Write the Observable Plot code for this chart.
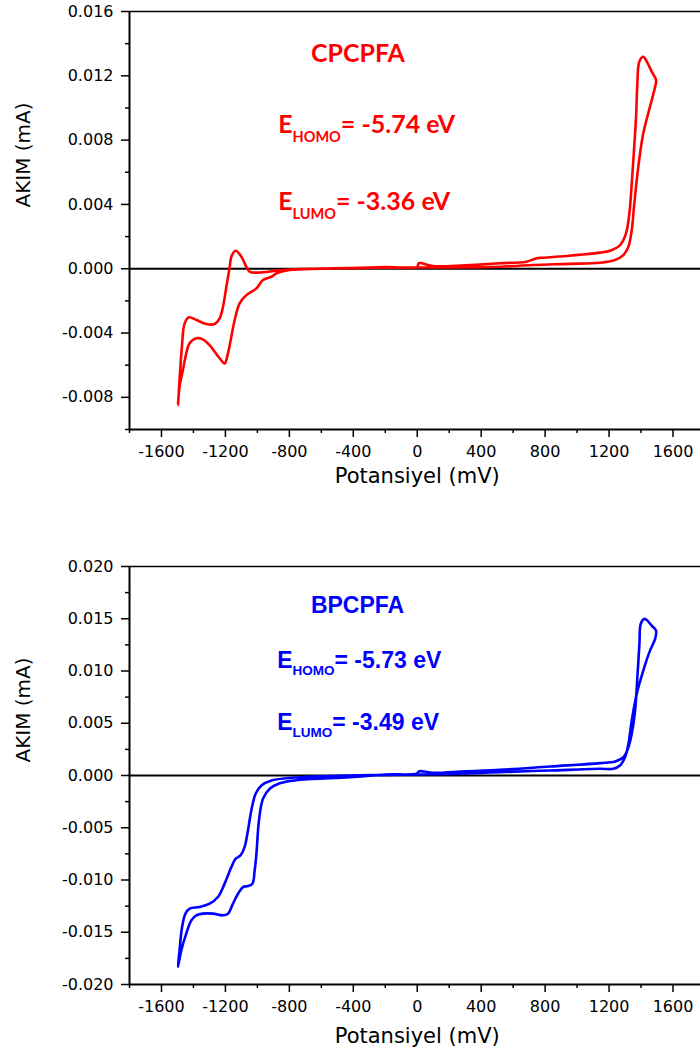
<!DOCTYPE html>
<html>
<head>
<meta charset="utf-8">
<script src="https://cdn.jsdelivr.net/npm/d3@7"></script>
<script src="https://cdn.jsdelivr.net/npm/@observablehq/plot@0.6"></script>
<style>
html, body { margin: 0; padding: 0; background: #fff; overflow: hidden; }
#chart svg { display: block; }
</style>
</head>
<body>
<div id="chart"></div>
<script>
// ---------- DATA ----------
// CPCPFA (red) cyclic voltammogram: potential (mV) and current (mA), closed loop
const redPotential = [
  0, 200, 400, 517, 726, 950, 1143, 1237, 1289, 1321, 1342, 1356, 1383, 1414, 1456, 1488, 1494,
  1467, 1436, 1414, 1389, 1377, 1369, 1356, 1342, 1327, 1306, 1269, 1206, 1143, 935, 780, 747, 684,
  517, 300, 100, 10, 0, -200, -422, -600, -798, -881, -912, -965, -1006, -1069, -1111, -1142, -1163,
  -1184, -1205, -1236, -1267, -1299, -1341, -1382, -1424, -1445, -1466, -1487, -1497,
  -1487, -1472, -1455, -1428, -1382, -1319, -1267, -1236, -1215, -1194, -1173, -1163, -1136, -1100,
  -1069, -1048, -965, -881, -735, -422, -200, 0
];
const redCurrent = [
  0.00008, 0.00008, 0.0001, 0.00012, 0.00023, 0.0003, 0.00037, 0.00054, 0.00085, 0.00137, 0.00241, 0.00386, 0.00635, 0.00842, 0.01008, 0.01132, 0.01174,
  0.01226, 0.01288, 0.01319, 0.01288, 0.01153, 0.00946, 0.00738, 0.00531, 0.00345, 0.0022, 0.00147, 0.00112, 0.001, 0.00079, 0.00068, 0.00065, 0.00044,
  0.00034, 0.00022, 0.00016, 0.00035, 0.00012, 0.0001, 0.00005, 0.0, -0.00008, -0.00029, -0.0005, -0.0007, -0.00122, -0.00164, -0.00215, -0.00319, -0.00423,
  -0.00526, -0.00589, -0.00557, -0.00516, -0.00475, -0.00439, -0.00433, -0.00464, -0.00526, -0.0063, -0.00734, -0.00848,
  -0.00692, -0.00485, -0.0034, -0.00302, -0.00319, -0.00344, -0.00344, -0.00309, -0.00236, -0.00112, 0.00012, 0.00075, 0.00112, 0.00075,
  0.00012, -0.00019, -0.00022, -0.00012, -0.00002, 0.00004, 0.00006, 0.00008
];

// BPCPFA (blue) cyclic voltammogram
const bluePotential = [
  0, 200, 400, 517, 830, 1143, 1227, 1268, 1300, 1321, 1342, 1373, 1414, 1456, 1488, 1494,
  1467, 1436, 1419, 1398, 1390, 1377, 1363, 1342, 1321, 1290, 1238, 1143, 830, 517, 300, 100, 10, 0,
  -200, -422, -735, -860, -923, -965, -990, -1006, -1017, -1031, -1059, -1090, -1121, -1153, -1184,
  -1215, -1278, -1341, -1382, -1413, -1445, -1476, -1497,
  -1487, -1471, -1450, -1424, -1362, -1299, -1247, -1205, -1163, -1136, -1106, -1080, -1059, -1038,
  -1011, -975, -912, -735, -422, -200, 0
];
const blueCurrent = [
  0.0001, 0.00015, 0.00025, 0.00032, 0.00048, 0.00064, 0.00064, 0.00096, 0.00175, 0.00303, 0.00526, 0.00781, 0.01004, 0.01195, 0.01307, 0.01386,
  0.01434, 0.01488, 0.01498, 0.0145, 0.01259, 0.0094, 0.00621, 0.00399, 0.00271, 0.00175, 0.00134, 0.00118, 0.00086, 0.00054, 0.0004, 0.00025, 0.0004, 0.0002,
  0.0001, -0.00016, -0.00041, -0.00074, -0.00127, -0.00223, -0.0043, -0.00749, -0.00908, -0.01035, -0.01058, -0.01068, -0.01131, -0.01227, -0.01322,
  -0.01338, -0.01322, -0.01322, -0.01338, -0.01386, -0.01513, -0.01673, -0.01833,
  -0.01673, -0.0145, -0.01322, -0.01274, -0.01259, -0.01227, -0.01163, -0.01035, -0.00877, -0.00796, -0.00765, -0.00685, -0.00526, -0.00335,
  -0.00175, -0.00096, -0.00048, -0.00016, 0, 0.00005, 0.0001
];

// Axis ticks
const xMajorTicks = [-1600, -1200, -800, -400, 0, 400, 800, 1200, 1600];
const xMinorTicks = [-1800, -1400, -1000, -600, -200, 200, 600, 1000, 1400];
const topYMajor = [-0.008, -0.004, 0, 0.004, 0.008, 0.012, 0.016];
const topYMinor = [-0.010, -0.006, -0.002, 0.002, 0.006, 0.010, 0.014];
const bottomYMajor = [-0.020, -0.015, -0.010, -0.005, 0, 0.005, 0.010, 0.015, 0.020];
const bottomYMinor = [-0.0175, -0.0125, -0.0075, -0.0025, 0.0025, 0.0075, 0.0125, 0.0175];

// Texts
const xTitle = "Potansiyel (mV)";
const yTitle = "AKIM (mA)";
const topName = "CPCPFA";
const topHomo = "= -5.74 eV";
const topLumo = "= -3.36 eV";
const bottomName = "BPCPFA";
const bottomHomo = "= -5.73 eV";
const bottomLumo = "= -3.49 eV";

// ---------- DRAWING ----------
const xDomain = [-1800, 1772];
const fmtX = d => (d < 0 ? "-" + Math.abs(d) : String(d));
const fmtY = d => (d < 0 ? "-" : "") + Math.abs(d).toFixed(3);

function panel(cfg) {
  const rows = cfg.potential.map((p, i) => ({p, c: cfg.current[i]}));
  const plot = Plot.plot({
    width: 700,
    height: cfg.height,
    marginLeft: 129,
    marginRight: 0,
    marginTop: cfg.marginTop,
    marginBottom: cfg.marginBottom,
    style: {fontFamily: "DejaVu Sans", fontSize: "16px", background: "white", color: "black"},
    x: {domain: xDomain},
    y: {domain: cfg.yDomain},
    marks: [
      Plot.ruleY([0], {stroke: "black", strokeWidth: 2}),
      Plot.line(rows, {x: "p", y: "c", stroke: cfg.color, strokeWidth: 2.6, curve: "catmull-rom"}),
      Plot.ruleX([xDomain[0]], {stroke: "black", strokeWidth: 2}),
      Plot.ruleY([cfg.yDomain[0]], {stroke: "black", strokeWidth: 2}),
      Plot.ruleY([cfg.yDomain[1]], {stroke: "black", strokeWidth: 1.4}),
      Plot.axisX({ticks: xMajorTicks, tickSize: 8, tickPadding: 8, tickFormat: fmtX, strokeWidth: 1.5, label: null}),
      Plot.axisX({ticks: xMinorTicks, tickSize: 4, tickFormat: () => "", fill: "none", strokeWidth: 1.5, label: null}),
      Plot.axisY({ticks: cfg.yMajor, tickSize: 8, tickPadding: 8, tickFormat: fmtY, strokeWidth: 1.5, label: null}),
      Plot.axisY({ticks: cfg.yMinor, tickSize: 4, tickFormat: () => "", fill: "none", strokeWidth: 1.5, label: null}),
      Plot.text([xTitle], {x: [0], frameAnchor: "bottom", dy: cfg.xTitleDy, fontSize: 21}),
      Plot.text([yTitle], {frameAnchor: "left", rotate: -90, dx: -106, dy: -13, fontSize: 20})
    ]
  });

  const sx = plot.scale("x"), sy = plot.scale("y");
  const svg = d3.select(plot.tagName.toLowerCase() === "svg" ? plot : plot.querySelector("svg"));
  const g = svg.append("g")
    .attr("fill", cfg.color)
    .attr("font-family", cfg.font)
    .attr("font-weight", "bold")
    .attr("text-anchor", "start");

  g.append("text")
    .attr("x", sx.apply(cfg.nameAt[0]))
    .attr("y", sy.apply(cfg.nameAt[1]))
    .attr("font-size", cfg.bigSize)
    .text(cfg.name);

  [["HOMO", cfg.homo, cfg.homoY], ["LUMO", cfg.lumo, cfg.lumoY]].forEach(([sub, val, yv]) => {
    const t = g.append("text")
      .attr("x", sx.apply(cfg.eX))
      .attr("y", sy.apply(yv))
      .attr("font-size", cfg.bigSize);
    t.append("tspan").text("E");
    t.append("tspan").attr("font-size", cfg.subSize).attr("dy", cfg.subDy).text(sub);
    t.append("tspan").attr("dy", -cfg.subDy).text(val);
  });
  return plot;
}

const chart = document.getElementById("chart");

chart.appendChild(panel({
  potential: redPotential, current: redCurrent, color: "#ff0000",
  height: 527, marginTop: 11, marginBottom: 98,
  yDomain: [-0.010, 0.016], yMajor: topYMajor, yMinor: topYMinor,
  xTitleDy: 53,
  font: "Lato", bigSize: 25, subSize: 14.5, subDy: 9,
  name: topName, nameAt: [-662, 0.0128],
  eX: -867, homo: topHomo, homoY: 0.00844, lumo: topLumo, lumoY: 0.00365
}));

chart.appendChild(panel({
  potential: bluePotential, current: blueCurrent, color: "#0000ff",
  height: 527, marginTop: 39, marginBottom: 70,
  yDomain: [-0.020, 0.020], yMajor: bottomYMajor, yMinor: bottomYMinor,
  xTitleDy: 58,
  font: "Liberation Sans", bigSize: 23, subSize: 13.5, subDy: 7,
  name: bottomName, nameAt: [-662, 0.01549],
  eX: -873, homo: bottomHomo, homoY: 0.01023, lumo: bottomLumo, lumoY: 0.0043
}));
</script>
</body>
</html>
